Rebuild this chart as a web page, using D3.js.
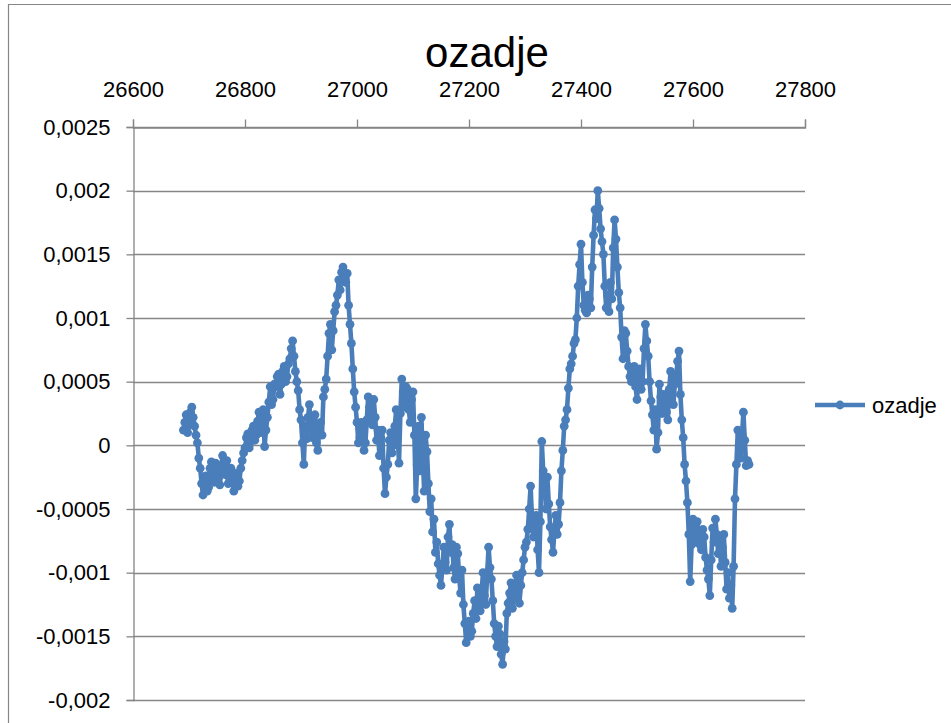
<!DOCTYPE html>
<html><head><meta charset="utf-8">
<script src="https://cdn.jsdelivr.net/npm/d3@7"></script>
<style>body{margin:0;background:#fff} svg{display:block;font-family:"Liberation Sans",Arial,sans-serif}</style>
</head><body><svg id="c" width="951" height="723"></svg>
<script>
const chartTitle = "ozadje";
const seriesName = "ozadje";
// x positions: evenly spaced sample positions
const xStart = 26690, xStep = 2.5;
const values = [
 1.2e-4, 1.8e-4, 2.4e-4, 1.0e-4, 1.6e-4, 2.6e-4, 3.0e-4, 2.2e-4, 1.5e-4, 0.8e-4, 0.2e-4, -1.0e-4, -1.8e-4, -3.0e-4, -3.9e-4, -2.8e-4, -2.4e-4, -3.6e-4, -3.3e-4, -1.8e-4,
 -1.3e-4, -2.4e-4, -2.9e-4, -1.4e-4, -1.6e-4, -2.6e-4, -3.1e-4, -1.6e-4, -0.8e-4, -2.0e-4, -2.3e-4, -1.2e-4, -3.0e-4, -2.6e-4, -1.8e-4, -2.8e-4, -3.6e-4, -2.8e-4, -2.2e-4, -3.2e-4,
 -2.8e-4, -1.8e-4, -1.2e-4, -0.6e-4, -0.2e-4, 0.6e-4, 0.9e-4, -0.2e-4, 0.3e-4, 1.2e-4, 1.5e-4, 0.4e-4, 0.8e-4, 1.9e-4, 2.6e-4, 1.0e-4, 1.8e-4, 2.8e-4, -0.1e-4, 1.2e-4,
 2.2e-4, 3.4e-4, 4.6e-4, 3.2e-4, 3.6e-4, 4.8e-4, 4.6e-4, 5.4e-4, 5.6e-4, 4.0e-4, 4.8e-4, 5.8e-4, 6.2e-4, 5.0e-4, 5.4e-4, 6.4e-4, 6.8e-4, 7.6e-4, 8.2e-4, 7.0e-4,
 5.8e-4, 5.0e-4, 4.3e-4, 2.8e-4, 2.0e-4, 0.2e-4, -1.5e-4, 1.5e-4, 0.5e-4, 2.2e-4, 3.2e-4, 1.4e-4, 0.6e-4, 1.8e-4, 2.4e-4, 0.2e-4, -0.4e-4, 1.2e-4, 1.8e-4, 0.8e-4,
 3.8e-4, 4.4e-4, 5.2e-4, 7.0e-4, 8.8e-4, 9.5e-4, 7.5e-4, 9.0e-4, 10.5e-4, 11.0e-4, 11.8e-4, 13.0e-4, 12.2e-4, 13.6e-4, 14.0e-4, 13.2e-4, 12.8e-4, 13.5e-4, 11.0e-4, 9.5e-4,
 8.0e-4, 6.0e-4, 4.2e-4, 3.0e-4, 1.8e-4, 0.2e-4, 0.6e-4, 1.8e-4, 1.5e-4, -0.4e-4, 0.2e-4, 2.0e-4, 3.8e-4, 3.0e-4, 2.6e-4, 1.6e-4, 3.6e-4, 2.2e-4, 0.4e-4, 1.2e-4,
 -0.8e-4, 0.6e-4, 1.2e-4, -1.8e-4, -3.8e-4, -2.5e-4, -1.5e-4, 0.4e-4, 1.0e-4, -0.6e-4, 0, 1.5e-4, 2.8e-4, 1.0e-4, -1.4e-4, 2.5e-4, 5.2e-4, 4.2e-4, 3.0e-4, 4.6e-4,
 4.4e-4, 2.8e-4, 1.8e-4, 3.6e-4, 4.2e-4, 0.8e-4, -4.2e-4, -1.5e-4, 1.5e-4, -2.0e-4, 2.2e-4, -1.0e-4, -3.6e-4, 0.8e-4, -0.5e-4, -3.0e-4, -5.2e-4, -4.2e-4, -6.8e-4, -5.8e-4,
 -8.4e-4, -7.6e-4, -9.3e-4, -10.2e-4, -11.0e-4, -9.5e-4, -8.0e-4, -9.2e-4, -9.8e-4, -7.2e-4, -6.2e-4, -8.4e-4, -7.8e-4, -9.6e-4, -10.5e-4, -8.0e-4, -8.5e-4, -10.4e-4, -11.6e-4, -9.8e-4,
 -12.5e-4, -14.0e-4, -15.5e-4, -14.2e-4, -13.8e-4, -15.0e-4, -14.6e-4, -13.2e-4, -12.2e-4, -13.6e-4, -11.2e-4, -12.0e-4, -13.0e-4, -11.5e-4, -10.0e-4, -11.8e-4, -12.5e-4, -10.0e-4, -8.0e-4, -9.6e-4,
 -10.5e-4, -12.2e-4, -14.0e-4, -15.0e-4, -15.8e-4, -14.2e-4, -14.8e-4, -16.4e-4, -17.2e-4, -15.4e-4, -16.0e-4, -13.2e-4, -12.4e-4, -11.6e-4, -10.8e-4, -12.8e-4, -12.0e-4, -11.0e-4, -10.2e-4, -11.5e-4,
 -12.4e-4, -11.0e-4, -10.0e-4, -9.0e-4, -8.0e-4, -7.6e-4, -6.6e-4, -5.0e-4, -3.2e-4, -5.8e-4, -7.2e-4, -6.0e-4, -5.5e-4, -8.2e-4, -10.0e-4, -6.0e-4, 0.3e-4, -2.0e-4, -3.0e-4, -5.0e-4,
 -2.5e-4, -4.6e-4, -6.4e-4, -7.4e-4, -8.4e-4, -6.8e-4, -5.5e-4, -7.0e-4, -6.2e-4, -4.5e-4, -2.0e-4, -0.4e-4, 1.5e-4, 2.0e-4, 2.8e-4, 4.5e-4, 6.0e-4, 6.4e-4, 7.0e-4, 8.0e-4,
 8.3e-4, 10.0e-4, 12.5e-4, 14.2e-4, 15.8e-4, 12.8e-4, 11.0e-4, 10.6e-4, 10.4e-4, 11.8e-4, 11.5e-4, 10.8e-4, 14.0e-4, 16.5e-4, 18.5e-4, 17.8e-4, 20.0e-4, 18.6e-4, 17.0e-4, 16.0e-4,
 15.0e-4, 12.5e-4, 10.8e-4, 11.8e-4, 10.5e-4, 12.8e-4, 11.5e-4, 15.5e-4, 17.7e-4, 16.2e-4, 14.0e-4, 12.0e-4, 10.8e-4, 8.5e-4, 6.8e-4, 9.0e-4, 8.8e-4, 7.4e-4, 6.2e-4, 5.4e-4,
 5.0e-4, 5.8e-4, 6.2e-4, 4.6e-4, 3.6e-4, 5.2e-4, 6.0e-4, 4.4e-4, 5.0e-4, 7.6e-4, 9.5e-4, 8.2e-4, 7.0e-4, 5.0e-4, 3.5e-4, 2.4e-4, 1.2e-4, 2.8e-4, -0.3e-4, 1.0e-4,
 4.8e-4, 3.8e-4, 2.5e-4, 4.0e-4, 3.4e-4, 2.6e-4, 2.0e-4, 4.4e-4, 5.8e-4, 4.6e-4, 3.2e-4, 4.8e-4, 5.5e-4, 6.6e-4, 7.4e-4, 4.0e-4, 2.0e-4, 0.6e-4, -1.5e-4, -2.8e-4,
 -4.5e-4, -7.0e-4, -10.7e-4, -7.8e-4, -5.8e-4, -7.6e-4, -7.2e-4, -6.0e-4, -6.8e-4, -7.8e-4, -8.2e-4, -6.6e-4, -7.2e-4, -8.8e-4, -9.8e-4, -10.5e-4, -11.8e-4, -9.0e-4, -6.5e-4, -7.6e-4,
 -5.8e-4, -7.0e-4, -8.5e-4, -7.4e-4, -9.5e-4, -8.0e-4, -7.0e-4, -9.2e-4, -11.3e-4, -10.0e-4, -12.0e-4, -11.0e-4, -12.8e-4, -9.5e-4, -4.2e-4, -1.5e-4, 1.2e-4, 0, -1.0e-4, 0.8e-4,
 2.6e-4, 0.4e-4, -1.6e-4, -1.2e-4, -1.5e-4
];
const xTicks = [26600, 26800, 27000, 27200, 27400, 27600, 27800];
const yTicks = [0.0025, 0.002, 0.0015, 0.001, 0.0005, 0, -0.0005, -0.001, -0.0015, -0.002];
const yTickLabels = ["0,0025", "0,002", "0,0015", "0,001", "0,0005", "0", "-0,0005", "-0,001", "-0,0015", "-0,002"];

const data = values.map((v, i) => ({x: xStart + i * xStep, y: v}));
const color = "#4a7ebb", gridColor = "#868686";
const svg = d3.select("#c");

// outer chart border
svg.append("path").attr("d", "M8.5,723 V4.5 H951").attr("fill", "none").attr("stroke", gridColor).attr("stroke-width", 1.2);

const x = d3.scaleLinear().domain([26600, 27800]).range([133, 805]);
const y = d3.scaleLinear().domain([-0.002, 0.0025]).range([700, 127]);

// gridlines
svg.append("g").selectAll("line").data(yTicks).join("line")
  .attr("x1", x(26600)).attr("x2", x(27800))
  .attr("y1", d => Math.round(y(d)) + 0.5).attr("y2", d => Math.round(y(d)) + 0.5)
  .attr("stroke", gridColor).attr("stroke-width", 1.3);

// x axis at top
const xAxis = svg.append("g").attr("transform", `translate(0,${Math.round(y(0.0025)) + 0.5})`)
  .call(d3.axisTop(x).tickValues(xTicks).tickSize(8).tickPadding(23).tickFormat(d3.format("d")));
xAxis.select(".domain").attr("stroke", gridColor).attr("stroke-width", 1.3);
xAxis.selectAll(".tick line").attr("stroke", gridColor).attr("stroke-width", 1.3);
xAxis.selectAll("text").attr("font-size", 22).attr("fill", "#000").attr("font-family", "Liberation Sans");

// y axis
const yAxis = svg.append("g").attr("transform", `translate(${Math.round(x(26600)) + 0.5},0)`)
  .call(d3.axisLeft(y).tickValues(yTicks).tickSize(7).tickPadding(16).tickFormat((d, i) => yTickLabels[i]));
yAxis.select(".domain").attr("stroke", gridColor).attr("stroke-width", 1.3);
yAxis.selectAll(".tick line").attr("stroke", gridColor).attr("stroke-width", 1.3);
yAxis.selectAll("text").attr("font-size", 22).attr("fill", "#000").attr("font-family", "Liberation Sans");

// title
svg.append("text").attr("x", 487).attr("y", 67).attr("text-anchor", "middle")
  .attr("font-size", 42).attr("fill", "#000").text(chartTitle);

// series
const line = d3.line().x(d => x(d.x)).y(d => y(d.y));
svg.append("path").datum(data).attr("d", line).attr("fill", "none")
  .attr("stroke", color).attr("stroke-width", 4.6).attr("stroke-linejoin", "round");
svg.append("g").selectAll("circle").data(data).join("circle")
  .attr("cx", d => x(d.x)).attr("cy", d => y(d.y)).attr("r", 4.4).attr("fill", color);

// legend
const lg = svg.append("g").attr("transform", "translate(815,405)");
lg.append("line").attr("x1", 0).attr("x2", 50).attr("y1", 0).attr("y2", 0).attr("stroke", color).attr("stroke-width", 4.6);
lg.append("circle").attr("cx", 25).attr("cy", 0).attr("r", 4.4).attr("fill", color);
lg.append("text").attr("x", 57).attr("y", 8).attr("font-size", 22).attr("fill", "#000").text(seriesName);
</script></body></html>
